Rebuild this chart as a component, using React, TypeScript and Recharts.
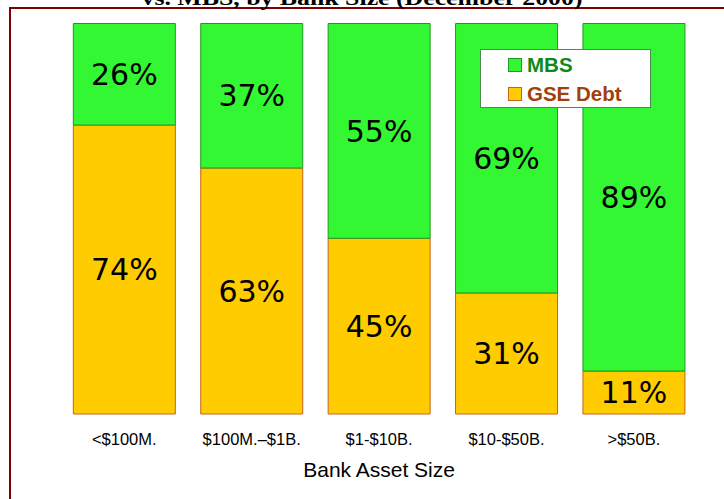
import React from 'react';
import { BarChart, Bar, XAxis, YAxis, Legend, LabelList } from 'recharts';

const categories = ['<$100M.', '$100M.\u2013$1B.', '$1-$10B.', '$10-$50B.', '>$50B.'];
const gseDebt = [74, 63, 45, 31, 11];
const mbs = [26, 37, 55, 69, 89];
const titleLine = 'vs. MBS, by Bank Size (December 2000)';
const xAxisTitle = 'Bank Asset Size';

const data = categories.map((c, i) => ({ name: c, gse: gseDebt[i], mbs: mbs[i] }));

const GREEN = '#33f733';
const GREEN_STROKE = '#1f9a1f';
const YELLOW = '#ffcc00';
const YELLOW_STROKE = '#c8641e';

const Tick = (props: any) => {
  const { x, y, payload } = props;
  return (
    <text x={x} y={y + 17} textAnchor="middle" dominantBaseline="central"
      fontFamily="Liberation Sans, Arial, sans-serif" fontSize={16.5} fill="#000">
      {payload.value}
    </text>
  );
};

const LegendContent = (props: any) => {
  const items = [
    { label: 'MBS', fill: GREEN, stroke: GREEN_STROKE, color: '#0e8a16' },
    { label: 'GSE Debt', fill: YELLOW, stroke: YELLOW_STROKE, color: '#a33f0c' },
  ];
  return (
    <div style={{ width: 169, height: 57, border: '1.5px solid #4d8a4d', background: '#fff', boxSizing: 'content-box', position: 'relative' }}>
      {items.map((it, i) => (
        <div key={it.label} style={{ position: 'absolute', left: 27, top: 7 + i * 28.5, display: 'flex', alignItems: 'center', height: 16 }}>
          <div style={{ width: 12, height: 12, background: it.fill, border: `1.5px solid ${it.stroke}`, marginRight: 5 }} />
          <span style={{ fontFamily: 'Liberation Sans, Arial, sans-serif', fontWeight: 700, fontSize: 20.5, color: it.color, lineHeight: '16px' }}>{it.label}</span>
        </div>
      ))}
    </div>
  );
};

export default function App() {
  return (
    <div style={{ position: 'absolute', left: 0, top: 0, width: 724, height: 499, overflow: 'hidden', background: '#fff' }}>
      <div style={{ position: 'absolute', left: 9, top: 7, width: 800, height: 600, border: '2px solid #800000' }} />
      <svg width={724} height={20} style={{ position: 'absolute', left: 0, top: 0 }}>
        <text x={362} y={5} textAnchor="middle" fontFamily="Liberation Serif, Times New Roman, serif" fontWeight={700} fontSize={22} textLength={441} lengthAdjust="spacingAndGlyphs" fill="#000">
          {titleLine}
        </text>
      </svg>
      <div style={{ position: 'absolute', left: 0, top: 0 }}>
        <BarChart width={724} height={499} data={data} barCategoryGap="10%"
          margin={{ top: 23.5, right: 26.4, bottom: 15, left: 60.6 }}>
          <YAxis hide domain={[0, 100]} />
          <XAxis dataKey="name" axisLine={false} tickLine={false} height={70} interval={0} tick={<Tick />}
            label={{ value: xAxisTitle, position: 'insideBottom', offset: 7, fill: '#000', fontSize: 21, fontFamily: 'Liberation Sans, Arial, sans-serif' }} />
          <Legend layout="vertical" align="center" verticalAlign="middle" content={<LegendContent />}
            wrapperStyle={{ position: 'absolute', left: 480, top: 49, width: 172, height: 60 }} />
          <Bar dataKey="gse" name="GSE Debt" stackId="a" fill={YELLOW} stroke={YELLOW_STROKE} strokeWidth={1} isAnimationActive={false}>
            <LabelList dataKey="gse" position="center" formatter={(v: any) => `${v}%`} fill="#000" fontSize={30} fontFamily="DejaVu Sans, sans-serif" />
          </Bar>
          <Bar dataKey="mbs" name="MBS" stackId="a" fill={GREEN} stroke={GREEN_STROKE} strokeWidth={1} isAnimationActive={false}>
            <LabelList dataKey="mbs" position="center" formatter={(v: any) => `${v}%`} fill="#000" fontSize={30} fontFamily="DejaVu Sans, sans-serif" />
          </Bar>
        </BarChart>
      </div>
    </div>
  );
}
